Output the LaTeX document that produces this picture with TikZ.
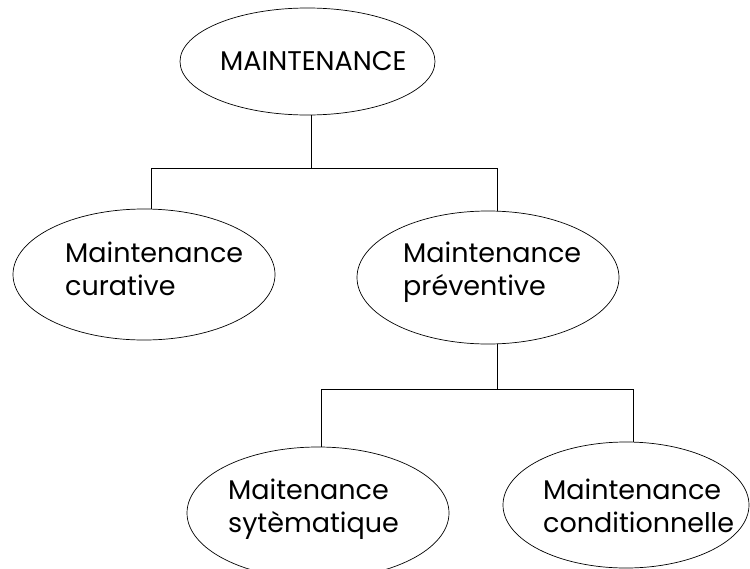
\documentclass[tikz,border=0pt]{standalone}
\usepackage{fontspec}
\setmainfont{Poppins}
\usetikzlibrary{shapes.geometric}
\begin{document}
\begin{tikzpicture}[x=1pt,y=-1pt,
  oval/.style={draw,ellipse,line width=0.7pt,inner sep=0pt},
  lbl/.style={anchor=base west,inner sep=0pt,font=\fontsize{27}{33}\selectfont,align=left},
  conn/.style={line width=0.7pt}]
\useasboundingbox (0,0) rectangle (750,568);
% ellipses
\node[oval,minimum width=255pt,minimum height=107pt] (top) at (307.5,61.5) {};
\node[oval,minimum width=262pt,minimum height=131pt] (cur) at (144,274.5) {};
\node[oval,minimum width=262pt,minimum height=133pt] (prev) at (488,277.5) {};
\node[oval,minimum width=262pt,minimum height=132pt] (sys) at (318,513) {};
\node[oval,minimum width=246pt,minimum height=126pt] (cond) at (626,505) {};
% labels (base anchor = baseline of last line)
\node[lbl] (ttop) at (220,70) {MAINTENANCE};
\node[lbl] (tcur) at (65,295) {Maintenance\\curative};
\node[lbl] (tprev) at (403,295) {Maintenance\\préventive};
\node[lbl] (tsys) at (228,532) {Maitenance\\sytèmatique};
\node[lbl] (tcond) at (543,532) {Maintenance\\conditionnelle};
% connectors
\coordinate (b1) at (311,168);
\coordinate (b1l) at (151,168);
\coordinate (b1r) at (497,168);
\coordinate (b2) at (497,389);
\coordinate (b2l) at (321,389);
\coordinate (b2r) at (633,389);
\draw[conn] (top.south -| b1) -- (b1);
\draw[conn] (b1l) -- (b1r);
\draw[conn] (b1l) -- (b1l |- cur.north);
\draw[conn] (b1r) -- (b1r |- prev.north);
\draw[conn] (prev.south -| b2) -- (b2);
\draw[conn] (b2l) -- (b2r);
\draw[conn] (b2l) -- (b2l |- sys.north);
\draw[conn] (b2r) -- (b2r |- cond.north);
\end{tikzpicture}
\end{document}
